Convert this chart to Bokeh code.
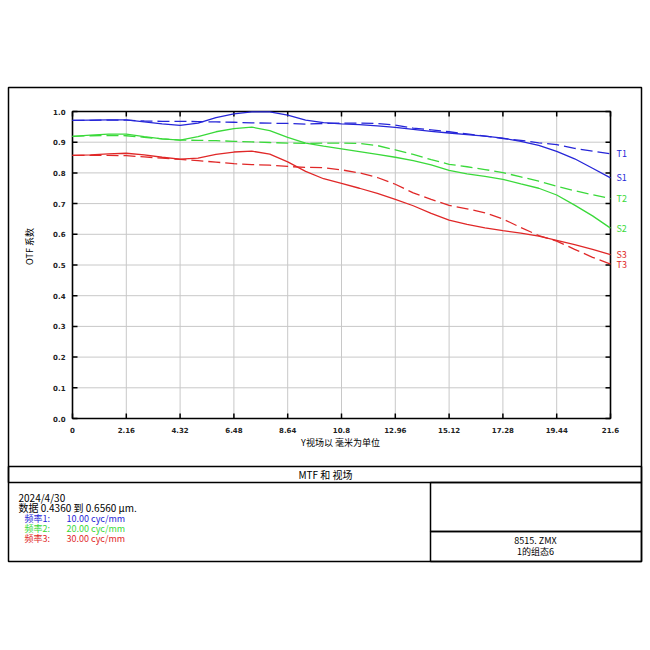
from bokeh.plotting import figure
from bokeh.models import Range1d
from bokeh.core.properties import value
from bokeh.embed import file_html
from bokeh.resources import INLINE

# ---------------- data ----------------
field_mm = [0, 0.72, 1.44, 2.16, 2.88, 3.6, 4.32, 5.04, 5.76, 6.48, 7.2, 7.92, 8.64,
            9.36, 10.08, 10.8, 11.52, 12.24, 12.96, 13.68, 14.4, 15.12, 15.84, 16.56,
            17.28, 18.0, 18.72, 19.44, 20.16, 20.88, 21.6]
S1 = [0.971, 0.972, 0.973, 0.973, 0.966, 0.960, 0.955, 0.962, 0.980, 0.992, 0.999,
      0.999, 0.988, 0.972, 0.964, 0.960, 0.957, 0.953, 0.948, 0.942, 0.935, 0.930,
      0.925, 0.920, 0.913, 0.903, 0.890, 0.870, 0.846, 0.815, 0.784]
T1 = [0.971, 0.971, 0.972, 0.972, 0.969, 0.968, 0.968, 0.967, 0.966, 0.965, 0.963,
      0.962, 0.961, 0.959, 0.961, 0.962, 0.962, 0.961, 0.956, 0.946, 0.940, 0.934,
      0.927, 0.920, 0.912, 0.906, 0.898, 0.892, 0.880, 0.871, 0.862]
S2 = [0.919, 0.923, 0.926, 0.926, 0.918, 0.911, 0.907, 0.918, 0.934, 0.944, 0.949,
      0.938, 0.916, 0.897, 0.887, 0.878, 0.869, 0.860, 0.851, 0.840, 0.826, 0.808,
      0.797, 0.789, 0.779, 0.764, 0.750, 0.728, 0.695, 0.660, 0.620]
T2 = [0.919, 0.921, 0.922, 0.921, 0.916, 0.911, 0.907, 0.906, 0.905, 0.903, 0.901,
      0.899, 0.897, 0.896, 0.897, 0.897, 0.896, 0.889, 0.875, 0.860, 0.843, 0.828,
      0.820, 0.811, 0.801, 0.787, 0.773, 0.757, 0.742, 0.729, 0.716]
S3 = [0.857, 0.859, 0.862, 0.864, 0.859, 0.851, 0.845, 0.848, 0.860, 0.868, 0.871,
      0.861, 0.836, 0.805, 0.781, 0.766, 0.750, 0.733, 0.714, 0.693, 0.668, 0.646,
      0.632, 0.621, 0.612, 0.604, 0.594, 0.580, 0.566, 0.551, 0.534]
T3 = [0.857, 0.857, 0.857, 0.856, 0.852, 0.848, 0.844, 0.840, 0.835, 0.830, 0.827,
      0.825, 0.821, 0.818, 0.817, 0.810, 0.800, 0.785, 0.763, 0.735, 0.714, 0.694,
      0.683, 0.670, 0.650, 0.622, 0.596, 0.578, 0.551, 0.525, 0.503]

x_tick_labels = ["0", "2.16", "4.32", "6.48", "8.64", "10.8", "12.96", "15.12",
                 "17.28", "19.44", "21.6"]
y_tick_labels = ["0.0", "0.1", "0.2", "0.3", "0.4", "0.5", "0.6", "0.7", "0.8", "0.9", "1.0"]

BLUE, GREEN, RED = "#2626d8", "#3ad93a", "#e02828"
series = [("T1", T1, True, BLUE), ("S1", S1, False, BLUE),
          ("T2", T2, True, GREEN), ("S2", S2, False, GREEN),
          ("S3", S3, False, RED), ("T3", T3, True, RED)]

# ---------------- page geometry (pixels) ----------------
W = H = 650
FL, FR, FT, FB = 72, 610, 111, 418      # chart frame on the page
XMAX, YMAX = 21.6, 1.0
kx = (FR - FL) / XMAX
ky = (FB - FT) / YMAX
FONT = "Noto Sans CJK SC"

p = figure(width=W, height=H, output_backend="svg", toolbar_location=None,
           x_range=Range1d(0, W), y_range=Range1d(H, 0),
           x_axis_location=None, y_axis_location=None,
           min_border=0, background_fill_color="white", border_fill_color="white")
p.outline_line_color = None
for g in p.grid:
    g.visible = False
p.extra_x_ranges = {"mm": Range1d(-FL / kx, XMAX + (W - FR) / kx)}
p.extra_y_ranges = {"otf": Range1d(-(H - FB) / ky, YMAX + FT / ky)}
C = dict(x_range_name="mm", y_range_name="otf")

xt = [float(s) for s in x_tick_labels]
yt = [float(s) for s in y_tick_labels]

# grid
p.segment(x0=xt, y0=[0] * len(xt), x1=xt, y1=[YMAX] * len(xt),
          line_color="#c8c8c8", line_width=1, **C)
p.segment(x0=[0] * len(yt), y0=yt, x1=[XMAX] * len(yt), y1=yt,
          line_color="#c8c8c8", line_width=1, **C)

# frame
p.quad(left=[0], right=[XMAX], bottom=[0], top=[YMAX], fill_alpha=0,
       line_color="black", line_width=1.6, **C)

# inward ticks (5 px)
tx = 5 / kx
ty = 5 / ky
p.segment(x0=[0] * len(yt), y0=yt, x1=[tx] * len(yt), y1=yt, line_color="black", line_width=1.5, **C)
p.segment(x0=[XMAX] * len(yt), y0=yt, x1=[XMAX - tx] * len(yt), y1=yt, line_color="black", line_width=1.5, **C)
p.segment(x0=xt, y0=[0] * len(xt), x1=xt, y1=[ty] * len(xt), line_color="black", line_width=1.5, **C)
p.segment(x0=xt, y0=[YMAX] * len(xt), x1=xt, y1=[YMAX - ty] * len(xt), line_color="black", line_width=1.5, **C)

# tick labels
p.text(x=[0] * len(yt), y=yt, text=y_tick_labels, x_offset=-7, text_align="right",
       text_baseline="middle", text_font=value("DejaVu Sans"), text_font_size="7px",
       text_font_style="bold", text_color="#222222", **C)
p.text(x=xt, y=[0] * len(xt), text=x_tick_labels, y_offset=8, text_align="center",
       text_baseline="top", text_font=value("DejaVu Sans"), text_font_size="7px",
       text_font_style="bold", text_color="#222222", **C)

# curves + end labels
for name, ys, dashed, col in series:
    p.line(field_mm, ys, line_color=col, line_width=1.3,
           line_dash=("12 5" if dashed else "solid"), **C)
    p.text(x=[XMAX], y=[ys[-1]], text=[name], x_offset=6, text_color=col,
           text_font=value(FONT), text_font_size="9px", text_baseline="middle", **C)

# page boxes (page pixel coordinates)
box_l = [8, 8, 430, 430]
box_r = [641, 641, 641, 641]
box_t = [87, 466, 482, 531]
box_b = [561, 482, 531, 561]
p.quad(left=box_l, right=box_r, top=box_t, bottom=box_b, fill_alpha=0,
       line_color="black", line_width=1.5)

def txt(X, Y, s, color="black", size="10px", align="left", angle=0.0):
    p.text(x=[X], y=[Y], text=[s], text_color=color, text_font=value(FONT),
           text_font_size=size, text_align=align, text_baseline="middle", angle=angle)

txt(340, 442, "Y视场以 毫米为单位", size="9px", align="center")
txt(29, 246, "OTF 系数", size="9px", align="center", angle=1.5708)
txt(325, 474, "MTF 和 视场", size="10px", align="center")
txt(18, 497, "2024/4/30", size="10px")
txt(18, 507, "数据 0.4360 到 0.6560 μm.", size="10px")
txt(24, 518, "频率1:", color=BLUE, size="9px")
txt(66, 518, "10.00 cyc/mm", color=BLUE, size="9px")
txt(24, 528, "频率2:", color=GREEN, size="9px")
txt(66, 528, "20.00 cyc/mm", color=GREEN, size="9px")
txt(24, 538, "频率3:", color=RED, size="9px")
txt(66, 538, "30.00 cyc/mm", color=RED, size="9px")
txt(535, 540, "8515. ZMX", size="9px", align="center")
txt(535, 551, "1的组态6", size="9px", align="center")

open("out.html", "w").write(file_html(p, INLINE))
